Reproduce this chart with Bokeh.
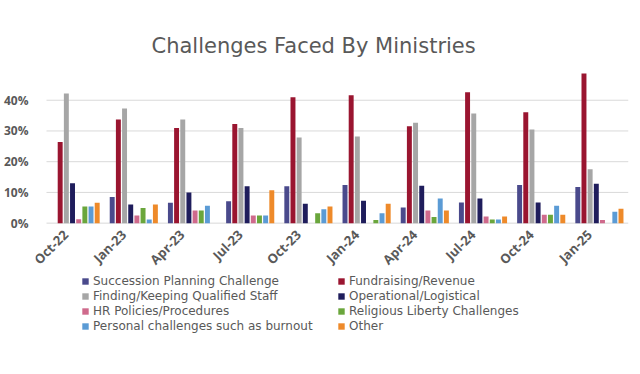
import math
from bokeh.plotting import figure
from bokeh.models import ColumnDataSource, Legend, LegendItem, NumeralTickFormatter, FixedTicker, Range1d
from bokeh.transform import dodge
from bokeh.core.properties import value
from bokeh.embed import file_html
from bokeh.resources import INLINE

NaN = float("nan")
categories = ["Oct-22", "Jan-23", "Apr-23", "Jul-23", "Oct-23", "Jan-24", "Apr-24", "Jul-24", "Oct-24", "Jan-25"]
succession = [NaN, 8.5, 6.6, 7.1, 12.0, 12.4, 5.1, 6.7, 12.4, 11.8]
fundraising = [26.4, 33.7, 31.0, 32.3, 41.0, 41.6, 31.5, 42.6, 36.1, 48.7]
finding = [42.2, 37.3, 33.7, 31.0, 27.9, 28.2, 32.7, 35.7, 30.5, 17.5]
operational = [13.0, 6.1, 10.0, 12.0, 6.3, 7.3, 12.2, 8.0, 6.7, 12.8]
hr = [1.3, 2.5, 4.1, 2.5, NaN, NaN, 4.1, 2.2, 2.7, 1.0]
religious = [5.4, 4.9, 4.1, 2.5, 3.2, 1.0, 2.0, 1.2, 2.7, NaN]
personal = [5.4, 1.2, 5.7, 2.5, 4.5, 3.2, 8.0, 1.2, 5.7, 3.7]
other = [6.6, 6.1, NaN, 10.7, 5.4, 6.3, 4.1, 2.2, 2.7, 4.7]

series_names = ["Succession Planning Challenge", "Fundraising/Revenue", "Finding/Keeping Qualified Staff",
                "Operational/Logistical", "HR Policies/Procedures", "Religious Liberty Challenges",
                "Personal challenges such as burnout", "Other"]
series_values = [succession, fundraising, finding, operational, hr, religious, personal, other]
colors = ["#4a4a8c", "#9a1530", "#a6a6a6", "#1f1d5c", "#cf6a8c", "#6aa63c", "#5b9bd5", "#ee8a2a"]
y_ticks = [0, 0.1, 0.2, 0.3, 0.4]

ncat = len(categories)
keys = ["s%d" % i for i in range(len(series_values))]
data = {"cat": categories, "idx": list(range(ncat)), "zero": [0.0] * ncat}
for k, vals in zip(keys, series_values):
    data[k] = [v / 100.0 for v in vals]
source = ColumnDataSource(data)

# frame extends below the zero line so that category labels and legend live inside it
p = figure(x_range=Range1d(-0.689, ncat - 0.5), y_range=Range1d(-0.46, 0.5),
           width=640, height=374, output_backend="svg", toolbar_location=None,
           x_axis_location=None,
           min_border_left=34, min_border_right=12, min_border_top=69, min_border_bottom=10)
p.outline_line_color = None
p.background_fill_color = "white"
p.grid.visible = False

# gridlines spanning the category area only
grid_src = ColumnDataSource({"y": y_ticks, "x0": [-0.5] * len(y_ticks), "x1": [ncat - 0.5] * len(y_ticks)})
p.segment(x0="x0", x1="x1", y0="y", y1="y", source=grid_src, line_color="#d9d9d9", line_width=1)

n = len(keys)
step = 0.106
renderers = []
for i, (k, c) in enumerate(zip(keys, colors)):
    off = (i - (n - 1) / 2) * step
    r = p.vbar(x=dodge("idx", off), top=k, width=0.085, source=source,
               fill_color=c, line_color=None)
    renderers.append(r)

# category labels
p.text(x="idx", y="zero", text="cat", source=source, angle=math.pi / 4,
       text_align="right", text_baseline="middle", x_offset=-10, y_offset=9,
       text_font=value("Open Sans"), text_font_style="bold", text_font_size="13px",
       text_color="#595959")

p.title.text = "Challenges Faced By Ministries"
p.title.align = "left"
p.title.offset = 116
p.title.text_font = "DejaVu Sans"
p.title.text_font_size = "21px"
p.title.text_font_style = "normal"
p.title.text_color = "#595959"
p.title.standoff = 23

p.yaxis.ticker = FixedTicker(ticks=y_ticks)
p.yaxis.formatter = NumeralTickFormatter(format="0%")
p.yaxis.axis_line_color = None
p.yaxis.major_tick_line_color = None
p.yaxis.minor_tick_line_color = None
p.yaxis.major_label_text_font = "Open Sans"
p.yaxis.major_label_text_font_style = "bold"
p.yaxis.major_label_text_font_size = "12px"
p.yaxis.major_label_text_color = "#595959"
p.yaxis.major_label_standoff = 1

def make_legend(idx, x):
    items = [LegendItem(label=series_names[i], renderers=[renderers[i]]) for i in idx]
    lg = Legend(items=items, location=(x, 31), orientation="vertical",
                label_text_font="DejaVu Sans", label_text_font_size="12px",
                label_text_color="#595959", glyph_width=8, glyph_height=8,
                label_height=15, spacing=0, padding=0, margin=0, label_standoff=4,
                border_line_color=None, background_fill_alpha=0)
    p.add_layout(lg, "center")

make_legend([0, 2, 4, 6], 46)
make_legend([1, 3, 5, 7], 302)

open("out.html", "w").write(file_html(p, INLINE))
